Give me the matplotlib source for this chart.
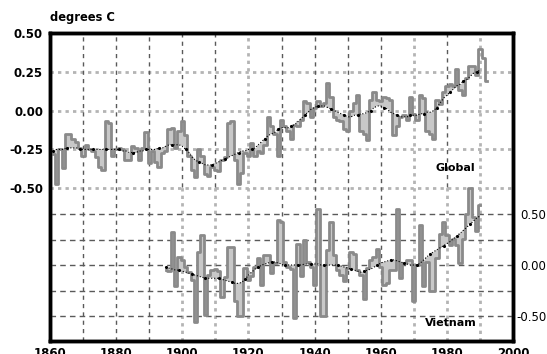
import numpy as np
import matplotlib.pyplot as plt

# Global annual anomalies (degrees C), 1861-1992
global_years = np.arange(1861, 1993)
global_temp = [
    -0.28, -0.47, -0.25, -0.37, -0.15, -0.15, -0.18, -0.20, -0.24,
    -0.29, -0.22, -0.25, -0.26, -0.30, -0.36, -0.38, -0.07, -0.08, -0.29,
    -0.25, -0.24, -0.25, -0.32, -0.32, -0.23, -0.24, -0.32, -0.24, -0.14,
    -0.34, -0.26, -0.33, -0.36, -0.27, -0.26, -0.12, -0.11, -0.24, -0.13,
    -0.07, -0.16, -0.29, -0.38, -0.43, -0.25, -0.29, -0.41, -0.42, -0.36,
    -0.38, -0.39, -0.32, -0.30, -0.08, -0.07, -0.32, -0.47, -0.40, -0.27,
    -0.29, -0.21, -0.29, -0.26, -0.27, -0.22, -0.04, -0.10, -0.15, -0.29,
    -0.06, -0.10, -0.13, -0.18, -0.09, -0.10, -0.06, 0.06, 0.05, -0.04,
    0.02, 0.06, 0.03, 0.05, 0.18, 0.09, -0.04, -0.06, -0.07, -0.12,
    -0.13, 0.00, 0.05, 0.10, -0.13, -0.15, -0.19, 0.07, 0.12, 0.07,
    0.06, 0.09, 0.08, 0.07, -0.16, -0.10, -0.04, -0.03, -0.06, 0.09,
    -0.02, -0.06, 0.10, 0.08, -0.13, -0.15, -0.18, 0.07, 0.04, 0.12,
    0.16, 0.17, 0.16, 0.27, 0.13, 0.10, 0.21, 0.29, 0.29, 0.23,
    0.40, 0.34, 0.19,
]
# Global smoothed curve, 1861-1990
global_smooth_years = np.arange(1861, 1991)
global_smooth = [
    -0.26, -0.25, -0.25, -0.25, -0.24, -0.24, -0.24, -0.24, -0.25,
    -0.25, -0.25, -0.25, -0.25, -0.25, -0.25, -0.25, -0.25, -0.25, -0.25,
    -0.25, -0.25, -0.26, -0.26, -0.27, -0.27, -0.27, -0.26, -0.26, -0.25,
    -0.25, -0.25, -0.25, -0.24, -0.24, -0.23, -0.22, -0.22, -0.22, -0.22,
    -0.23, -0.25, -0.27, -0.30, -0.32, -0.33, -0.34, -0.35, -0.35, -0.35,
    -0.34, -0.33, -0.32, -0.31, -0.30, -0.29, -0.28, -0.27, -0.26, -0.26,
    -0.25, -0.25, -0.24, -0.22, -0.20, -0.18, -0.16, -0.15, -0.14, -0.12,
    -0.11, -0.11, -0.11, -0.10, -0.09, -0.07, -0.05, -0.03, -0.01, 0.01,
    0.02, 0.03, 0.03, 0.03, 0.02, 0.01, 0.00, -0.01, -0.02, -0.03,
    -0.04, -0.04, -0.03, -0.03, -0.02, -0.02, -0.01, 0.00, 0.02, 0.03,
    0.03, 0.02, 0.01, -0.01, -0.02, -0.03, -0.04, -0.04, -0.04, -0.03,
    -0.03, -0.03, -0.02, -0.02, -0.01, -0.01, 0.00, 0.02, 0.05, 0.08,
    0.10, 0.12, 0.14, 0.16, 0.17, 0.19, 0.20, 0.22, 0.24, 0.25,
    0.26,
]

# Vietnam annual anomalies, 1895-1990
vn_years = np.arange(1895, 1991)
vn_temp = [
    -0.05, -0.06, 0.32, -0.21, 0.08,
    0.05, -0.02, -0.07, -0.15, -0.56, 0.13, 0.29, -0.49, -0.10, -0.05,
    -0.04, -0.06, -0.31, -0.12, 0.18, 0.18, -0.35, -0.50, -0.50, -0.03,
    -0.15, -0.11, -0.02, 0.07, -0.20, 0.10, 0.10, -0.08, 0.02, 0.44,
    0.42, 0.03, -0.02, -0.04, -0.52, 0.21, -0.11, 0.25, 0.03, -0.02,
    -0.20, 0.55, -0.50, -0.50, 0.15, 0.42, 0.10, -0.05, -0.10, -0.16,
    -0.03, 0.13, 0.11, -0.05, -0.10, -0.33, -0.03, 0.05, 0.08, 0.16,
    -0.02, -0.20, -0.18, -0.05, -0.05, 0.55, -0.13, 0.02, 0.05, 0.05,
    -0.35, 0.00, 0.39, -0.21, 0.03, -0.25, -0.25, 0.07, 0.30, 0.42,
    0.29, 0.20, 0.26, 0.20, 0.02, 0.26, 0.50, 0.76, 0.47, 0.33,
    0.59,
]
vn_smooth = [
    -0.02, -0.03, -0.04, -0.05, -0.05,
    -0.06, -0.07, -0.08, -0.09, -0.10, -0.11, -0.12, -0.13, -0.13, -0.13,
    -0.13, -0.13, -0.14, -0.15, -0.16, -0.17, -0.18, -0.18, -0.17, -0.14,
    -0.10, -0.07, -0.04, -0.02, 0.00, 0.01, 0.02, 0.03, 0.03, 0.02,
    0.01, 0.00, 0.00, 0.00, 0.00, 0.00, 0.00, 0.01, 0.01, 0.01,
    0.01, 0.01, 0.00, 0.00, 0.00, 0.00, 0.00, 0.00, -0.01, -0.02,
    -0.03, -0.04, -0.05, -0.06, -0.07, -0.06, -0.05, -0.04, -0.02, 0.00,
    0.02, 0.03, 0.04, 0.05, 0.05, 0.04, 0.03, 0.02, 0.01, 0.00,
    0.00, 0.00, 0.02, 0.05, 0.08, 0.11, 0.13, 0.15, 0.17, 0.19,
    0.21, 0.23, 0.26, 0.28, 0.31, 0.34, 0.37, 0.40, 0.43, 0.46,
    0.48,
]

global_ticks = [0.50, 0.25, 0.00, -0.25, -0.50]
vn_grid = [0.50, 0.25, 0.00, -0.25, -0.50]
vn_ticks = [0.50, 0.00, -0.50]
decades = list(range(1870, 2000, 10))
light_full = [1920, 1970, 1990]
light_low = [1900, 1910, 1980]
xtick_years = list(range(1860, 2001, 20))

LINE = '#8a8a8a'
FILL = '#c8c8c8'
FONT = 'DejaVu Sans'

fig = plt.figure(figsize=(5.47, 3.54), dpi=100)
ax = fig.add_axes([50 / 547, 13 / 354, 463 / 547, 308 / 354])
ax2 = ax.twinx()

ax.set_xlim(1860, 2000)
ax.set_ylim(-1.484, 0.5)
ax2.set_ylim(-0.745, 2.275)

# grid lines
for v in global_ticks[1:]:
    ax.axhline(v, color='#b4b4b4', lw=2, ls=(0, (1.2, 1.5)), zorder=1)
for v in vn_grid:
    ax2.axhline(v, color='#5a5a5a', lw=1, ls=(0, (4, 3)), zorder=1)
for yr in decades:
    if yr in light_full:
        ax.axvline(yr, color='#b4b4b4', lw=2, ls=(0, (1.2, 1.5)), zorder=1)
    elif yr in light_low:
        ax.axvline(yr, ymin=0, ymax=0.5, color='#b4b4b4', lw=2, ls=(0, (1.2, 1.5)), zorder=1)
        ax.axvline(yr, ymin=0.5, ymax=1, color='#5a5a5a', lw=1, ls=(0, (3, 3)), zorder=1)
    else:
        ax.axvline(yr, color='#5a5a5a', lw=1, ls=(0, (3, 3)), zorder=1)

# global series
n = len(global_smooth)
ax.fill_between(global_years[:n], global_temp[:n], global_smooth, step='mid',
                color=FILL, lw=0, zorder=2)
ax.step(global_years, global_temp, where='mid', color=LINE, lw=2.0, zorder=3)
ax.plot(global_smooth_years, global_smooth, color='black', lw=0.8, ls=':',
        marker='.', markersize=2.5, markevery=4, zorder=4)

# vietnam series
ax2.fill_between(vn_years, vn_temp, vn_smooth, step='mid', color=FILL, lw=0, zorder=2)
ax2.step(vn_years, vn_temp, where='mid', color=LINE, lw=2.0, zorder=3)
ax2.plot(vn_years, vn_smooth, color='black', lw=0.8, ls=':',
         marker='.', markersize=2.5, markevery=4, zorder=4)

ax.set_yticks(global_ticks)
ax.set_yticklabels(['%.2f' % v for v in global_ticks])
ax2.set_yticks(vn_ticks)
ax2.set_yticklabels(['%.2f' % v for v in vn_ticks])
ax.set_xticks(xtick_years)
ax.set_xticklabels([str(y) for y in xtick_years])

for a in (ax, ax2):
    a.tick_params(length=0, labelsize=8.5)
    for s in a.spines.values():
        s.set_linewidth(2.5)
for lab in ax.get_xticklabels() + ax.get_yticklabels():
    lab.set_fontfamily(FONT)
    lab.set_fontweight('bold')
for lab in ax2.get_yticklabels():
    lab.set_fontfamily(FONT)
    lab.set_horizontalalignment('right')
ax.tick_params(axis='y', pad=5)
ax.tick_params(axis='x', pad=4)
ax2.tick_params(axis='y', pad=24)

fig.text(50 / 547, 1 - 17 / 354, 'degrees C', fontsize=8.3, fontweight='bold',
         family=FONT, va='center', ha='left')
fig.text(455 / 547, 1 - 168 / 354, 'Global', fontsize=8, fontweight='bold',
         family=FONT, va='center', ha='center')
fig.text(451 / 547, 1 - 323 / 354, 'Vietnam', fontsize=8, fontweight='bold',
         family=FONT, va='center', ha='center')

fig.savefig('out.png', dpi=100)
